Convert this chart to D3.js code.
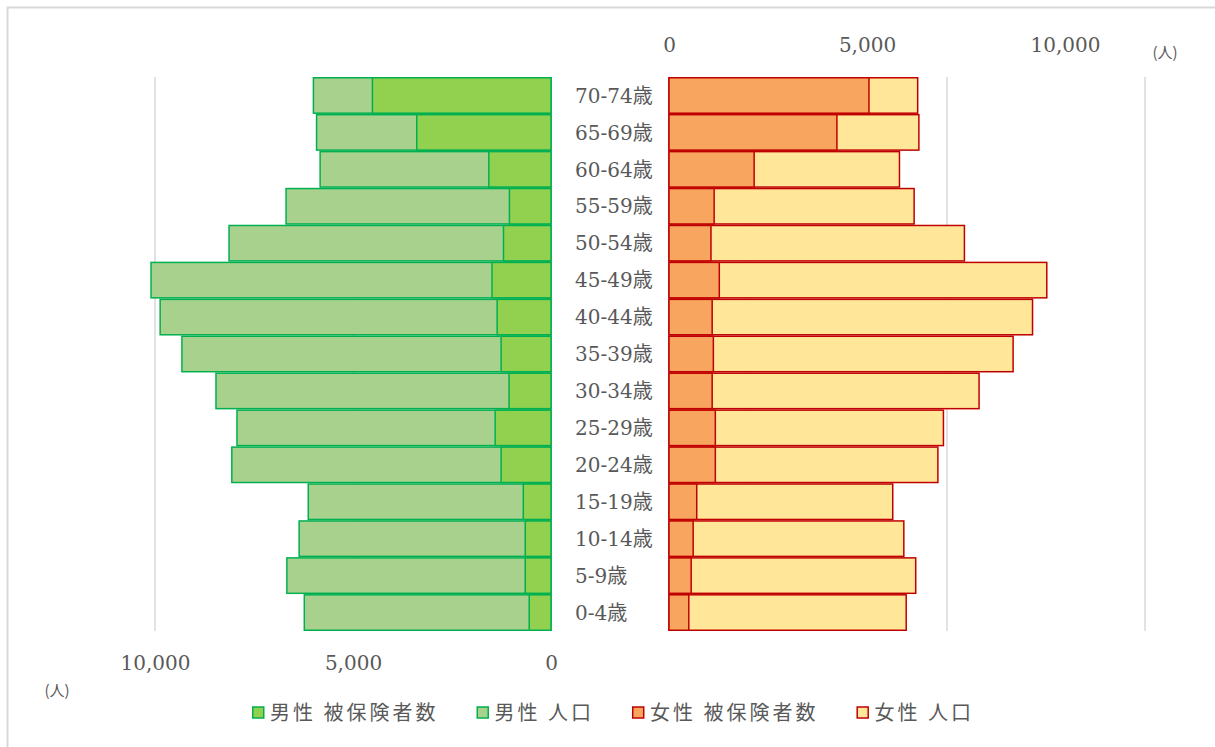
<!DOCTYPE html>
<html>
<head>
<meta charset="utf-8">
<script src="https://cdn.jsdelivr.net/npm/d3@7"></script>
<style>
  body { margin: 0; background: #fff; }
  svg { display: block; }
</style>
</head>
<body>
<svg id="chart"></svg>
<script>
// age groups, top to bottom
const ageGroups = ["70-74歳", "65-69歳", "60-64歳", "55-59歳", "50-54歳", "45-49歳", "40-44歳",
    "35-39歳", "30-34歳", "25-29歳", "20-24歳", "15-19歳", "10-14歳", "5-9歳", "0-4歳"];

const maleInsured = [4510, 3390, 1570, 1050, 1200, 1490, 1360, 1260, 1060, 1410, 1260, 700, 650, 650, 550];
const malePopulation = [6000, 5920, 5830, 6690, 8130, 10100, 9870, 9320, 8460, 7930, 8060, 6130, 6360, 6670, 6230];
const femaleInsured = [5050, 4240, 2150, 1140, 1060, 1270, 1090, 1120, 1090, 1170, 1170, 700, 610, 560, 500];
const femalePopulation = [6280, 6310, 5820, 6190, 7460, 9540, 9180, 8690, 7830, 6930, 6790, 5650, 5930, 6230, 5990];

const axisTicks = [0, 5000, 10000];
const gridValues = [10000, 5000, 0, -5000, -10000, -15000];
const legendLabels = ["男性 被保険者数", "男性 人口", "女性 被保険者数", "女性 人口"];

const width = 1215;
const height = 747;
const textColor = "#595959";
const serif = "'DejaVu Serif', 'Noto Sans CJK JP', serif";
const sans = "'Noto Sans CJK JP', sans-serif";

const colors = {
    maleInsured: "#92D050",
    malePop: "#A9D18E",
    maleStroke: "#00B050",
    femaleInsured: "#F7A55F",
    femalePop: "#FFE699",
    femaleStroke: "#C00000"
};

const svg = d3.select("#chart")
    .attr("width", width)
    .attr("height", height);

// chart frame
svg.append("rect")
    .attr("x", 7.5)
    .attr("y", 7.5)
    .attr("width", width + 10)
    .attr("height", height + 10)
    .attr("fill", "none")
    .attr("stroke", "#D9D9D9")
    .attr("stroke-width", 2);

const xMale = d3.scaleLinear().domain([0, 10000]).range([551, 155]);
const xFemale = d3.scaleLinear().domain([0, 10000]).range([669, 1065]);

const y = d3.scaleBand()
    .domain(ageGroups)
    .range([77, 631])
    .padding(0);

// gridlines (belong to the male axis, span whole plot)
svg.append("g")
    .selectAll("line")
    .data(gridValues)
    .join("line")
    .attr("x1", d => xMale(d))
    .attr("x2", d => xMale(d))
    .attr("y1", 77)
    .attr("y2", 631)
    .attr("stroke", "#D9D9D9")
    .attr("stroke-width", 1.5);

const rows = ageGroups.map((age, i) => ({
    age,
    maleInsured: maleInsured[i],
    malePop: malePopulation[i],
    femaleInsured: femaleInsured[i],
    femalePop: femalePopulation[i]
}));

function drawBars(key, scale, fill, stroke) {
    svg.append("g")
        .selectAll("rect")
        .data(rows)
        .join("rect")
        .attr("x", d => Math.min(scale(0), scale(d[key])))
        .attr("y", d => y(d.age) + 0.75)
        .attr("width", d => Math.abs(scale(d[key]) - scale(0)))
        .attr("height", y.bandwidth() - 1.5)
        .attr("fill", fill)
        .attr("stroke", stroke)
        .attr("stroke-width", 1.5);
}

drawBars("malePop", xMale, colors.malePop, colors.maleStroke);
drawBars("maleInsured", xMale, colors.maleInsured, colors.maleStroke);
drawBars("femalePop", xFemale, colors.femalePop, colors.femaleStroke);
drawBars("femaleInsured", xFemale, colors.femaleInsured, colors.femaleStroke);

// category labels
svg.append("g")
    .selectAll("text")
    .data(ageGroups)
    .join("text")
    .attr("x", 575)
    .attr("y", d => y(d) + y.bandwidth() / 2)
    .attr("dy", "0.36em")
    .attr("font-family", serif)
    .attr("font-size", 20)
    .attr("fill", textColor)
    .text(d => d);

// male axis (bottom)
const maleAxis = svg.append("g")
    .attr("transform", "translate(0, 653)")
    .call(d3.axisBottom(xMale).tickValues(axisTicks).tickFormat(d3.format(",")).tickSize(0));
maleAxis.select(".domain").remove();
maleAxis.selectAll("text")
    .attr("font-family", serif)
    .attr("font-size", 20)
    .attr("fill", textColor);

// female axis (top)
const femaleAxis = svg.append("g")
    .attr("transform", "translate(0, 41)")
    .call(d3.axisTop(xFemale).tickValues(axisTicks).tickFormat(d3.format(",")).tickSize(0));
femaleAxis.select(".domain").remove();
femaleAxis.selectAll("text")
    .attr("dy", "0.71em")
    .attr("font-family", serif)
    .attr("font-size", 20)
    .attr("fill", textColor);

// unit labels
svg.append("text")
    .attr("x", 57)
    .attr("y", 696)
    .attr("text-anchor", "middle")
    .attr("font-family", sans)
    .attr("font-size", 15)
    .attr("fill", textColor)
    .text("(人)");

svg.append("text")
    .attr("x", 1165)
    .attr("y", 58)
    .attr("text-anchor", "middle")
    .attr("font-family", sans)
    .attr("font-size", 15)
    .attr("fill", textColor)
    .text("(人)");

// legend
const legendItems = [
    { label: legendLabels[0], fill: colors.maleInsured, stroke: colors.maleStroke },
    { label: legendLabels[1], fill: colors.malePop, stroke: colors.maleStroke },
    { label: legendLabels[2], fill: colors.femaleInsured, stroke: colors.femaleStroke },
    { label: legendLabels[3], fill: colors.femalePop, stroke: colors.femaleStroke }
];

const legend = svg.append("g").attr("transform", "translate(252, 713)");
let lx = 0;
legendItems.forEach(item => {
    const g = legend.append("g").attr("transform", `translate(${lx}, 0)`);
    g.append("rect")
        .attr("x", 0.75)
        .attr("y", -6)
        .attr("width", 11)
        .attr("height", 11)
        .attr("fill", item.fill)
        .attr("stroke", item.stroke)
        .attr("stroke-width", 1.5);
    const t = g.append("text")
        .attr("x", 18)
        .attr("y", 0)
        .attr("dy", "0.35em")
        .attr("font-family", sans)
        .attr("font-size", 20)
        .attr("letter-spacing", 3)
        .attr("fill", textColor)
        .text(item.label);
    lx += 18 + t.node().getComputedTextLength() + 38;
});
</script>
</body>
</html>
